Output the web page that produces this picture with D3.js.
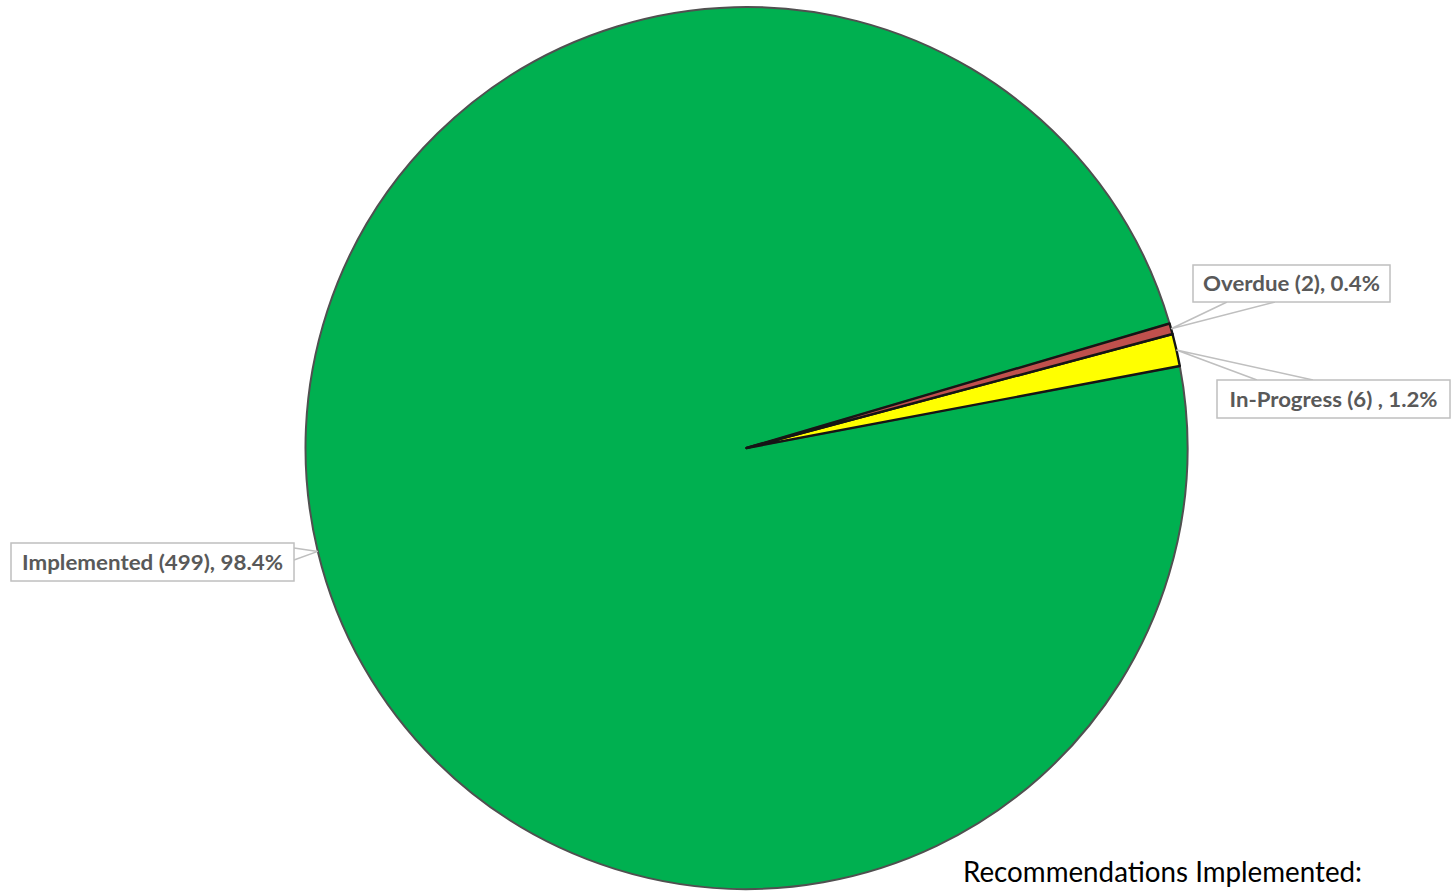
<!DOCTYPE html>
<html>
<head>
<meta charset="utf-8">
<script src="https://cdn.jsdelivr.net/npm/d3@7"></script>
<style>
  html, body { margin: 0; padding: 0; background: #ffffff; }
  svg { display: block; }
</style>
</head>
<body>
<div id="chart"></div>
<script>
// chart data
const categories = ["Overdue", "In-Progress", "Implemented"];
const counts = [2, 6, 499];
const labelFormats = ["{name} ({n}), {p}%", "{name} ({n}) , {p}%", "{name} ({n}), {p}%"];
const sliceColors = ["#c0504d", "#ffff00", "#00b050"];
const titleText = "Recommendations Implemented:";

const width = 1451;
const height = 891;
const cx = 746.5, cy = 448, radius = 441;
const startDeg = 73.6;

// label callout boxes (layout only)
const boxes = [
  { x: 1193, y: 265, w: 197, h: 37, textW: 177, base: [[1227, 302], [1275, 302]] },
  { x: 1217, y: 380, w: 233, h: 38, textW: 208, base: [[1257, 380], [1313, 380]] },
  { x: 11, y: 543, w: 283, h: 38, textW: 261, base: [[294, 548], [294, 560]] }
];

const svg = d3.select("#chart")
  .append("svg")
  .attr("width", width)
  .attr("height", height);

const total = d3.sum(counts);
const rows = categories.map((c, i) => ({
  name: c,
  n: counts[i],
  color: sliceColors[i],
  pct: (counts[i] / total * 100).toFixed(1),
  fmt: labelFormats[i]
}));

const start = startDeg * Math.PI / 180;
const pie = d3.pie()
  .sort(null)
  .value(d => d.n)
  .startAngle(start)
  .endAngle(start + 2 * Math.PI);

const arcs = pie(rows);
const arc = d3.arc().innerRadius(0).outerRadius(radius);

const g = svg.append("g").attr("transform", `translate(${cx},${cy})`);

// big slice first so the small ones' dark edges sit on top
const order = arcs.slice().sort((a, b) => b.data.n - a.data.n);
g.selectAll("path.slice")
  .data(order)
  .enter()
  .append("path")
  .attr("class", "slice")
  .attr("d", arc)
  .attr("fill", d => d.data.color)
  .attr("stroke", d => d.data.n > 100 ? "#505050" : "#151515")
  .attr("stroke-width", d => d.data.n > 100 ? 2 : 2.4)
  .attr("stroke-linejoin", "round");

// callouts
const labels = svg.append("g");
arcs.forEach((a, k) => {
  const b = boxes[k];
  const mid = (a.startAngle + a.endAngle) / 2;
  const tip = [cx + radius * Math.sin(mid), cy - radius * Math.cos(mid)];

  labels.append("polyline")
    .attr("points", [b.base[0], tip, b.base[1]].map(p => p.join(",")).join(" "))
    .attr("fill", "none")
    .attr("stroke", "#bfbfbf")
    .attr("stroke-width", 1.5);

  labels.append("rect")
    .attr("x", b.x)
    .attr("y", b.y)
    .attr("width", b.w)
    .attr("height", b.h)
    .attr("fill", "#ffffff")
    .attr("stroke", "#bfbfbf")
    .attr("stroke-width", 1.5);

  const txt = a.data.fmt
    .replace("{name}", a.data.name)
    .replace("{n}", a.data.n)
    .replace("{p}", a.data.pct);

  labels.append("text")
    .attr("x", b.x + (b.w - b.textW) / 2)
    .attr("y", b.y + b.h / 2 + 7.5)
    .attr("textLength", b.textW)
    .attr("lengthAdjust", "spacingAndGlyphs")
    .style("font-family", "Lato, 'Open Sans', sans-serif")
    .style("font-weight", "700")
    .style("font-size", "21px")
    .style("fill", "#595959")
    .text(txt);
});

svg.append("text")
  .attr("x", 963)
  .attr("y", 882)
  .attr("textLength", 399)
  .attr("lengthAdjust", "spacingAndGlyphs")
  .style("font-family", "Lato, 'Open Sans', sans-serif")
  .style("font-size", "29px")
  .style("fill", "#000000")
  .text(titleText);
</script>
</body>
</html>
